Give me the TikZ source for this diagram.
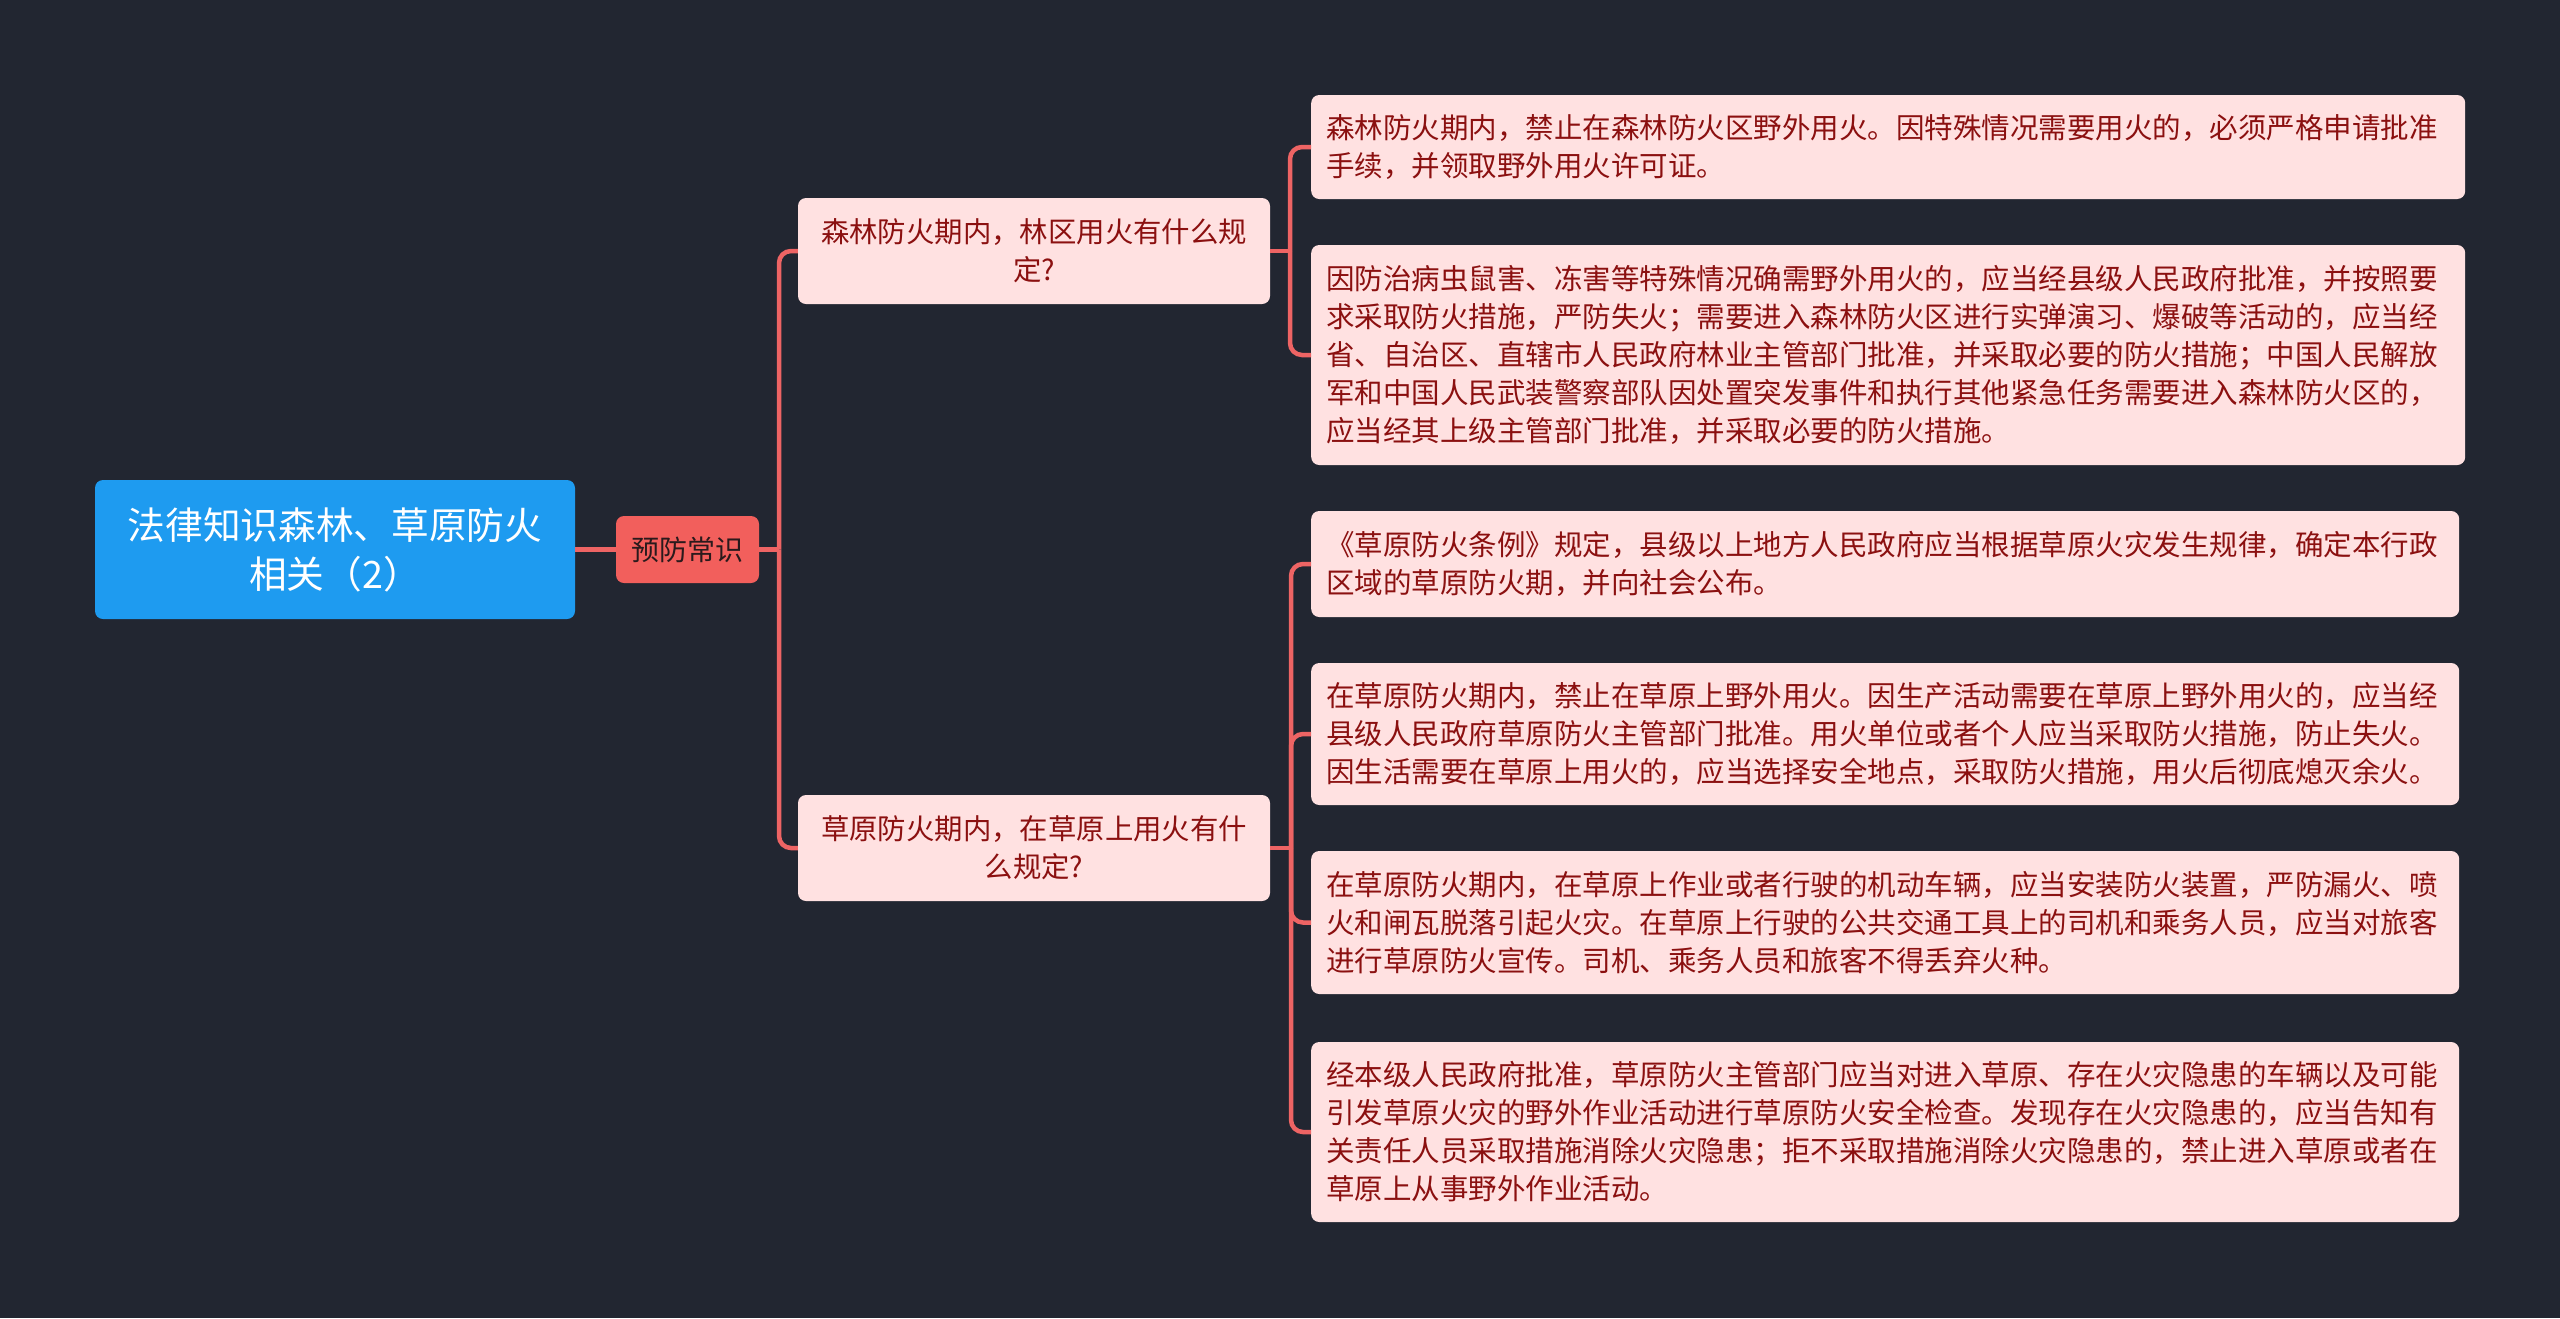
\documentclass[tikz,border=0pt]{standalone}
\usepackage{fontspec}
\usepackage{xcolor}
\setmainfont{Noto Sans CJK SC}

\begin{document}
\begin{tikzpicture}[x=1pt,y=-1pt,
    box/.style={rectangle,rounded corners=8pt,inner sep=0pt},
    rootbox/.style={box,fill=RootBlue,text=white,align=center,
        font=\fontsize{37.7pt}{49pt}\selectfont},
    tagbox/.style={box,fill=TagRed,text=TagText,
        font=\fontsize{28pt}{36pt}\selectfont},
    askbox/.style={box,fill=LeafPink,text=LeafText,align=center,
        minimum width=472pt,minimum height=106pt,
        font=\fontsize{28.4pt}{37.6pt}\selectfont},
    leafbox/.style={box,fill=LeafPink,text=LeafText,align=left,anchor=west,
        text width=1124pt,inner xsep=15pt,
        font=\fontsize{28.5pt}{38pt}\selectfont},
    link/.style={draw=LinkRed,line width=4.5pt,rounded corners=12pt}]
    \definecolor{BgDark}{HTML}{222631}
    \definecolor{RootBlue}{HTML}{1E9BF0}
    \definecolor{TagRed}{HTML}{F25F5C}
    \definecolor{TagText}{HTML}{2A1A1C}
    \definecolor{LinkRed}{HTML}{EE6464}
    \definecolor{LeafPink}{HTML}{FFE1E1}
    \definecolor{LeafText}{HTML}{8B1010}
    \fill[BgDark] (0,0) rectangle (2560,1318);
    \useasboundingbox (0,0) rectangle (2560,1318);

    % root and tag
    \node[rootbox,minimum width=480pt,minimum height=139pt] (root) at (335,549.5)
        {法律知识森林、草原防火\\相关（2）};
    \node[tagbox,minimum width=143pt,minimum height=67pt] (tag) at (687.5,549.5) {预防常识};

    % questions
    \node[askbox] (ask1) at (1034,251) {森林防火期内，林区用火有什么规\\定?};
    \node[askbox] (ask2) at (1034,848) {草原防火期内，在草原上用火有什\\么规定?};

    % answers
    \node[leafbox,minimum height=104pt] (leaf1) at (1311,147)
        {森林防火期内，禁止在森林防火区野外用火。因特殊情况需要用火的，必须严格申请批准\\手续，并领取野外用火许可证。};
    \node[leafbox,minimum height=220pt] (leaf2) at (1311,355)
        {因防治病虫鼠害、冻害等特殊情况确需野外用火的，应当经县级人民政府批准，并按照要\\求采取防火措施，严防失火；需要进入森林防火区进行实弹演习、爆破等活动的，应当经\\省、自治区、直辖市人民政府林业主管部门批准，并采取必要的防火措施；中国人民解放\\军和中国人民武装警察部队因处置突发事件和执行其他紧急任务需要进入森林防火区的，\\应当经其上级主管部门批准，并采取必要的防火措施。};
    \node[leafbox,text width=1118pt,minimum height=106pt] (leaf3) at (1311,564)
        {《草原防火条例》规定，县级以上地方人民政府应当根据草原火灾发生规律，确定本行政\\区域的草原防火期，并向社会公布。};
    \node[leafbox,text width=1118pt,minimum height=142pt] (leaf4) at (1311,734)
        {在草原防火期内，禁止在草原上野外用火。因生产活动需要在草原上野外用火的，应当经\\县级人民政府草原防火主管部门批准。用火单位或者个人应当采取防火措施，防止失火。\\因生活需要在草原上用火的，应当选择安全地点，采取防火措施，用火后彻底熄灭余火。};
    \node[leafbox,text width=1118pt,minimum height=143pt] (leaf5) at (1311,922.5)
        {在草原防火期内，在草原上作业或者行驶的机动车辆，应当安装防火装置，严防漏火、喷\\火和闸瓦脱落引起火灾。在草原上行驶的公共交通工具上的司机和乘务人员，应当对旅客\\进行草原防火宣传。司机、乘务人员和旅客不得丢弃火种。};
    \node[leafbox,text width=1118pt,minimum height=180pt] (leaf6) at (1311,1132)
        {经本级人民政府批准，草原防火主管部门应当对进入草原、存在火灾隐患的车辆以及可能\\引发草原火灾的野外作业活动进行草原防火安全检查。发现存在火灾隐患的，应当告知有\\关责任人员采取措施消除火灾隐患；拒不采取措施消除火灾隐患的，禁止进入草原或者在\\草原上从事野外作业活动。};

    % connectors
    \coordinate (j1) at (779,549.5);
    \coordinate (j2) at (1290,251);
    \coordinate (j3) at (1291,848);
    \draw[link] (root.east) -- (tag.west);
    \draw[link] (tag.east) -- (j1);
    \foreach \ask in {ask1,ask2}
        \draw[link] (j1) |- (\ask.west);
    \draw[link] (ask1.east) -- (j2);
    \foreach \leaf in {leaf1,leaf2}
        \draw[link] (j2) |- (\leaf.west);
    \draw[link] (ask2.east) -- (j3);
    \foreach \leaf in {leaf3,leaf4,leaf5,leaf6}
        \draw[link] (j3) |- (\leaf.west);
\end{tikzpicture}
\end{document}
